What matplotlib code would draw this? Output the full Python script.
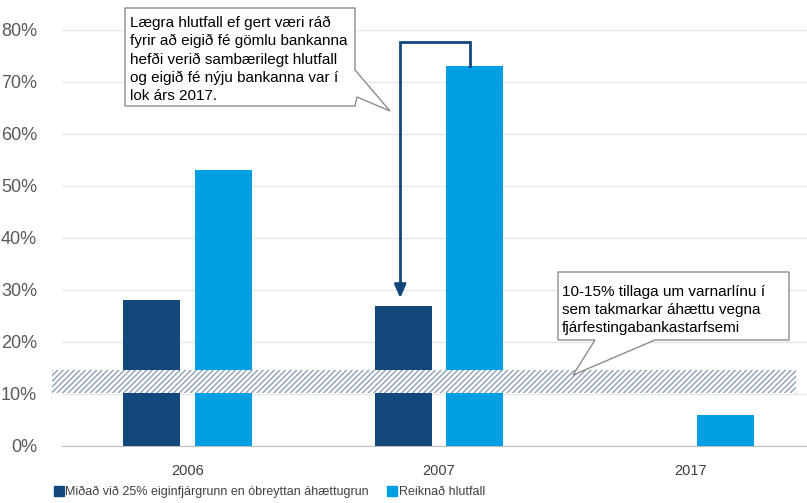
import matplotlib
matplotlib.use("Agg")
import matplotlib.pyplot as plt
from matplotlib.patches import Polygon, Rectangle
from matplotlib.lines import Line2D
import numpy as np

years = ["2006", "2007", "2017"]
midad_vid_25 = [28, 27, None]
reiknad = [53, 73, 6]
band_low, band_high = 10.2, 14.6
y_ticks = [0, 10, 20, 30, 40, 50, 60, 70, 80]
legend_labels = ["Miðað við 25% eiginfjárgrunn en óbreyttan áhættugrun", "Reiknað hlutfall"]
note_top = ("Lægra hlutfall ef gert væri ráð\nfyrir að eigið fé gömlu bankanna\n"
            "hefði verið sambærilegt hlutfall\nog eigið fé nýju bankanna var í\nlok árs 2017.")
note_band = "10-15% tillaga um varnarlínu í\nsem takmarkar áhættu vegna\nfjárfestingabankastarfsemi"

dark = "#13487D"
light = "#009EE3"
font = "Liberation Sans"

W, H = 807, 503
fig = plt.figure(figsize=(W / 100, H / 100), dpi=100)
ax = fig.add_axes([62 / W, 1 - 446 / H, 1 - 62 / W, (446 - 30) / H])

x = np.arange(len(years))
bw = 0.227
off = 0.142
dark_vals = [np.nan if v is None else v for v in midad_vid_25]
ax.bar(x - off, dark_vals, bw, color=dark, zorder=3)
ax.bar(x + off, reiknad, bw, color=light, zorder=3)

ax.set_xlim(-0.5, 2.465)
ax.set_ylim(0, 80)
ax.set_yticks(y_ticks)
ax.set_yticklabels([f"{t}%" for t in y_ticks], fontsize=13, family=font, color="#595959")
ax.set_xticks(x)
ax.set_xticklabels(years, fontsize=10.5, family=font, color="#404040")
ax.tick_params(length=0)
ax.tick_params(axis="y", pad=18)
ax.tick_params(axis="x", pad=13)
ax.grid(axis="y", color="#E6E6E6", lw=1, zorder=0)
for s in ["top", "right", "left"]:
    ax.spines[s].set_visible(False)
ax.spines["bottom"].set_color("#BFBFBF")

# hatched 10-15% band
tr = ax.get_yaxis_transform()
band = Rectangle((-10 / (W - 62), band_low), (796 - 52) / (W - 62), band_high - band_low,
                 transform=tr, facecolor="white", edgecolor="#8DA0B8", hatch="//////",
                 lw=0, clip_on=False, zorder=4)
ax.add_patch(band)

# bracket arrow from 2007 light bar to 2007 dark bar
top_y = 77.7
xl = 1 + off - 0.018
xd = 1 - off - 0.012
ax.plot([xl, xl, xd, xd], [reiknad[1], top_y, top_y, midad_vid_25[1] + 4], color=dark, lw=2, zorder=5,
        solid_joinstyle="miter")
ax.annotate("", xy=(xd, midad_vid_25[1] + 0.9), xytext=(xd, midad_vid_25[1] + 5),
            arrowprops=dict(arrowstyle="-|>,head_width=0.35,head_length=0.8", color=dark, lw=2), zorder=5)

def px(pts):
    return [(a / W, 1 - b / H) for a, b in pts]

c1 = Polygon(px([(125, 8), (355, 8), (355, 70), (390, 111), (357, 97), (355, 106), (125, 106)]),
             closed=True, transform=fig.transFigure, facecolor="white", edgecolor="#8C8C8C", lw=1, zorder=10)
fig.patches.append(c1)
fig.text(130 / W, 1 - 16 / H, note_top, fontsize=11, family=font, va="top", ha="left",
         linespacing=1.36, zorder=11)

c2 = Polygon(px([(558, 272), (789, 272), (789, 340), (655, 340), (573, 375), (595, 340), (558, 340)]),
             closed=True, transform=fig.transFigure, facecolor="white", edgecolor="#8C8C8C", lw=1, zorder=10)
fig.patches.append(c2)
fig.text(562 / W, 1 - 285 / H, note_band, fontsize=11, family=font, va="top", ha="left",
         linespacing=1.36, zorder=11)

handles = [Line2D([], [], marker="s", ls="", color=dark, markersize=7),
           Line2D([], [], marker="s", ls="", color=light, markersize=7)]
fig.legend(handles, legend_labels, loc="center left", bbox_to_anchor=(55 / W, 1 - 492 / H), ncol=2,
           frameon=False, handlelength=0.6, handletextpad=0.2, columnspacing=1.6,
           prop={"family": font, "size": 9}, labelcolor="#404040", borderaxespad=0, borderpad=0)

fig.savefig("out.png", dpi=100)
